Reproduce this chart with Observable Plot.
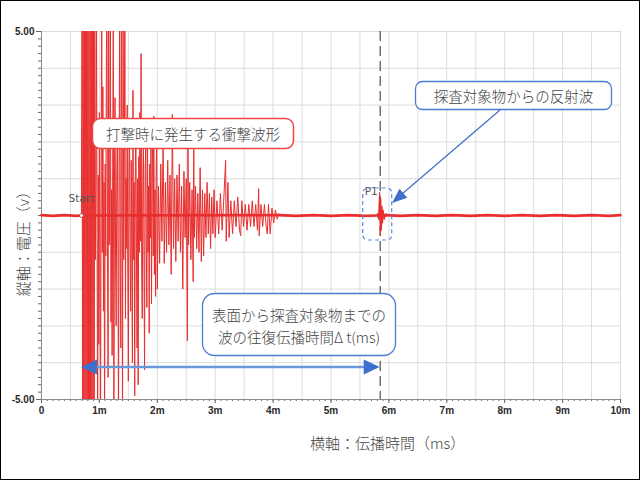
<!DOCTYPE html>
<html><head><meta charset="utf-8">
<script src="https://cdn.jsdelivr.net/npm/d3@7"></script>
<script src="https://cdn.jsdelivr.net/npm/@observablehq/plot@0.6"></script>
<style>
body{margin:0;background:#fff;}
#chart{width:640px;height:480px;}
.c g[aria-label="x-axis tick label"], .c g[aria-label="y-axis tick label"]{font-weight:bold;}
</style></head><body><div id="chart"></div>
<script>
// ---- data ----
const burstTime = [
0.69,0.70,0.71,0.72,0.73,0.74,0.75,0.76,0.77,0.78,
0.79,0.80,0.81,0.82,0.83,0.84,0.85,0.86,0.87,0.88,
0.89,0.90,0.91,0.92,0.93,0.94,0.95,0.96,0.97,0.98,
0.99,1.00,1.01,1.02,1.03,1.04,1.05,1.06,1.07,1.08,
1.09,1.10,1.11,1.12,1.13,1.14,1.15,1.16,1.17,1.18,
1.19,1.20,1.21,1.22,1.23,1.24,1.25,1.26,1.27,1.28,
1.29,1.30,1.31,1.32,1.33,1.34,1.35,1.36,1.37,1.38,
1.39,1.40,1.41,1.42,1.43,1.44,1.45,1.46,1.47,1.48,
1.49,1.50,1.51,1.52,1.53,1.54,1.55,1.56,1.57,1.58,
1.59,1.60,1.61,1.62,1.63,1.64,1.65,1.66,1.67,1.68,
1.69,1.70,1.71,1.72,1.73,1.74,1.75,1.76,1.77,1.78,
1.79,1.80,1.81,1.82,1.83,1.84,1.85,1.86,1.87,1.88,
1.89,1.90,1.91,1.92,1.93,1.94,1.95,1.96,1.97,1.98,
1.99,2.00,2.02,2.04,2.06,2.08,2.10,2.12,2.14,2.16,
2.18,2.20,2.22,2.24,2.26,2.28,2.30,2.32,2.34,2.36,
2.38,2.40,2.42,2.44,2.46,2.48,2.50,2.52,2.53,2.54,
2.56,2.58,2.60,2.62,2.63,2.64,2.66,2.68,2.70,2.72,
2.74,2.76,2.78,2.80,2.82,2.84,2.86,2.88,2.90,2.92,
2.94,2.96,2.98,3.00,3.03,3.06,3.09,3.12,3.15,3.18,
3.19,3.22,3.24,3.27,3.30,3.33,3.36,3.39,3.42,3.44,
3.46,3.49,3.52,3.55,3.58,3.61,3.64,3.67,3.70,3.73,
3.75,3.76,3.79,3.82,3.85,3.88,3.90,3.92,3.95,3.98,
4.01,4.04,4.07,4.10
];
const burstVolt = [
0,6,-6,6,-6,6,-6,6,-6,6,
-6,6,-6,6,-6,6,-6,6,-6,6,
-6,6,-6,6,-1.2,0.8,6,-0.9,-6,1.1,
-3.5,2.8,-0.7,-6,1.2,6,-1.0,3.5,-2.6,0.9,
-6,1.4,-1.1,4.2,6,-1.3,-4.4,6,-0.8,1.0,
6,-2.9,0.7,-3.8,1.3,6,-6,0.9,3.2,-1.4,
-3.0,1.1,2.4,-0.8,-6,1.2,6,-1.6,-3.6,6,
0.8,-6,6,-1.2,1.8,6,-2.8,1.0,-0.9,3.0,
-1.3,-4.5,1.2,2.2,-0.8,-2.6,1.5,-1.0,-4.0,3.4,
-1.2,0.9,-4.9,1.3,2.5,-0.9,-3.6,1.0,-4.6,1.6,
-1.0,2.8,-0.7,4.4,-1.4,-2.8,0.9,2.2,-1.1,-4.2,
1.2,1.8,-0.8,-2.5,2.6,-1.0,0.8,-3.2,1.4,-0.6,
1.9,-2.4,0.9,2.4,-1.1,2.7,-1.6,0.7,-2.2,1.2,
2.1,-2.0,0.8,-1.3,1.4,-0.7,2.1,-1.3,0.9,-1.0,
1.5,-0.8,1.1,-1.6,2.75,-0.9,1.0,-1.25,1.1,-0.7,
1.4,-1.0,0.8,-2.0,1.2,-0.6,1.0,-3.4,2.0,-0.8,
0.9,-1.2,0.7,-1.8,1.8,-0.6,0.8,-0.9,0.6,-1.0,
1.3,-1.25,0.7,-1.1,0.6,-0.6,0.9,-0.5,0.6,-0.9,
0.5,-0.5,0.7,-0.6,0.4,-0.5,0.6,-0.4,0.5,1.5,
-0.7,0.9,-0.6,0.4,-0.5,0.4,-0.3,0.5,-0.4,-0.55,
0.4,-0.3,0.3,-0.4,0.3,-0.3,0.4,-0.3,0.3,-0.4,
0.73,-0.55,0.3,-0.3,0.3,-0.3,-0.5,0.3,-0.5,0.2,
-0.2,0.15,-0.1,0.05
];
const echoTime = [5.80,5.82,5.84,5.85,5.86,5.87,5.88,5.89,5.90,5.92,5.95];
const echoVolt = [0.05,-0.1,0.62,-0.54,0.45,-0.4,0.25,-0.2,0.15,-0.1,0.05];
const baseTime = [0,0.2,0.4,0.6,0.69,4.1,4.4,4.7,5.0,5.3,5.6,5.8,5.95,6.2,6.5,6.8,7.1,7.4,7.7,8.0,8.3,8.6,8.9,9.2,9.5,9.8,10];
const baseVolt = [0.01,-0.01,0.01,-0.01,0,0.01,-0.01,0.01,-0.01,0.01,-0.01,0,0.01,-0.01,0.01,-0.01,0.01,-0.01,0.01,-0.01,0.01,-0.01,0.01,-0.01,0.01,-0.01,0.01];
const xTickValues = [0,1,2,3,4,5,6,7,8,9,10];
const xTickLabels = ["0","1m","2m","3m","4m","5m","6m","7m","8m","9m","10m"];
const yTickValues = [5,-5];
const yTickLabels = ["5.00","-5.00"];
const startTime = 0.69;
const echoArrival = 5.85;
const xTitle = "横軸：伝播時間（ms）";
const yTitle = "縦軸：電圧（v）";
const noteImpact = "打撃時に発生する衝撃波形";
const noteEcho = "探査対象物からの反射波";
const noteDelta = ["表面から探査対象物までの", "波の往復伝播時間Δ t(ms)"];

if (burstTime.length !== burstVolt.length) throw new Error("burst length mismatch " + burstTime.length + " " + burstVolt.length);

const burst = burstTime.map((t, i) => ({t, v: burstVolt[i]}));
const echo = echoTime.map((t, i) => ({t, v: echoVolt[i]}));
const base = baseTime.map((t, i) => ({t, v: baseVolt[i]}));

const RED = "#e82e2e";
const plot = Plot.plot({
  width: 640, height: 480,
  marginLeft: 41, marginRight: 20, marginTop: 31, marginBottom: 81,
  className: "c",
  x: {domain: [0, 10]},
  y: {domain: [-5, 5]},
  style: {fontFamily: "'Liberation Sans', Arial, sans-serif", fontSize: "10px", background: "#fff", color: "#333", overflow: "visible"},
  marks: [
    Plot.gridX(d3.range(0.5, 10.01, 0.5), {stroke: "#dcdcdc", strokeOpacity: 1}),
    Plot.gridY(d3.range(-4, 5.01, 1), {stroke: "#dcdcdc", strokeOpacity: 1}),
    Plot.axisX(d3.range(0, 10.01, 0.1), {tickSize: 2, tickFormat: () => "", label: null, stroke: "#666"}),
    Plot.axisX({ticks: xTickValues, tickSize: 4, tickPadding: 3, label: null, stroke: "#666",
      tickFormat: d => xTickLabels[xTickValues.indexOf(d)], fill: "#2a2a2a", fontWeight: "bold"}),
    Plot.axisY(d3.range(-5, 5.01, 0.2), {tickSize: 3, tickFormat: () => "", label: null, stroke: "#666"}),
    Plot.axisY({ticks: yTickValues, tickSize: 5, tickPadding: 2, label: null, stroke: "#666",
      tickFormat: d => yTickLabels[yTickValues.indexOf(d)], fill: "#2a2a2a", fontWeight: "bold"}),
    Plot.ruleX([0], {stroke: "#8c8c8c"}),
    Plot.ruleY([-5], {stroke: "#8c8c8c"}),
    Plot.ruleX([echoArrival], {stroke: "#5e5e52", strokeWidth: 1.3, strokeDasharray: "10,5"}),
    Plot.line(base, {x: "t", y: "v", stroke: RED, strokeWidth: 2.6}),
    Plot.line(burst, {x: "t", y: "v", stroke: RED, strokeWidth: 1, clip: true}),
    Plot.line(echo, {x: "t", y: "v", stroke: RED, strokeWidth: 1.2}),
    Plot.dot([startTime], {x: d => d, y: 0, r: 2, stroke: "#b03030", fill: "white", strokeWidth: 0.8}),
    Plot.text(["Start"], {x: startTime, y: 0, dy: -17, fontSize: 10.5, fill: "#555", fontFamily: "'DejaVu Sans', sans-serif"}),
    Plot.text(["P1"], {x: echoArrival, y: 0, dx: -9, dy: -24, fontSize: 10.5, fill: "#555", fontFamily: "'DejaVu Sans', sans-serif"})
  ]
});
document.getElementById("chart").appendChild(plot);

// ---- annotations ----
const svg = d3.select(plot);
const X = v => plot.scale("x").apply(v);
const g = svg.append("g");
const JP = "'Noto Sans CJK JP', 'Noto Sans', sans-serif";
const BLUE = "#4a7dd1";
const INK = "#444";

function box(x, y, w, h, stroke, sw, rx) {
  g.append("rect").attr("x", x).attr("y", y).attr("width", w).attr("height", h)
    .attr("rx", rx).attr("fill", "#fff").attr("stroke", stroke).attr("stroke-width", sw);
}
function label(text, cx, cy, size) {
  g.append("text").attr("x", cx).attr("y", cy).attr("text-anchor", "middle")
    .attr("dominant-baseline", "central").attr("font-family", JP).attr("font-size", size)
    .attr("font-weight", 300).attr("fill", INK).text(text);
}
function head(tx, ty, fx, fy, len, half, fill) {
  const a = Math.atan2(ty - fy, tx - fx);
  const bx = tx - len * Math.cos(a), by = ty - len * Math.sin(a);
  const px = -Math.sin(a) * half, py = Math.cos(a) * half;
  g.append("path").attr("d", `M${tx},${ty}L${bx + px},${by + py}L${bx - px},${by - py}Z`).attr("fill", fill);
}

// dashed box around reflection
const ex = X(echoArrival);
g.append("rect").attr("x", ex - 17).attr("y", 188).attr("width", 29).attr("height", 52).attr("rx", 5)
  .attr("fill", "none").attr("stroke", "#5a8ad8").attr("stroke-width", 1.2).attr("stroke-dasharray", "4,3");

// impact note
box(92.5, 118.5, 201, 30, "#f04545", 1.5, 8);
label(noteImpact, 193, 133.5, 14.5);

// echo note + arrow
box(415.5, 81.5, 196, 28, BLUE, 1.3, 7);
label(noteEcho, 513.5, 95.5, 14.5);
g.append("line").attr("x1", 500).attr("y1", 110).attr("x2", 402).attr("y2", 194)
  .attr("stroke", "#3f6fc8").attr("stroke-width", 1.2);
head(392, 203, 500, 110, 15, 6, "#3f6fc8");

// delta note
box(202.5, 293.5, 193, 62, BLUE, 1.3, 12);
label(noteDelta[0], 299, 314, 14.5);
label(noteDelta[1], 299, 336, 14.5);

// double arrow
const x0 = X(startTime), x1 = X(echoArrival), ya = 367;
g.append("line").attr("x1", x0 + 10).attr("y1", ya).attr("x2", x1 - 10).attr("y2", ya)
  .attr("stroke", "#6a98dc").attr("stroke-width", 2.5);
head(x0, ya, x1, ya, 16, 7.5, "#3d6fcf");
head(x1, ya, x0, ya, 16, 7.5, "#3d6fcf");

// axis titles
g.append("text").attr("x", 310).attr("y", 442).attr("text-anchor", "start").attr("dominant-baseline", "central")
  .attr("font-family", JP).attr("font-size", 15).attr("font-weight", 300).attr("fill", INK).text(xTitle);
g.append("text").attr("transform", "translate(22,240) rotate(-90)").attr("text-anchor", "middle")
  .attr("dominant-baseline", "central").attr("font-family", JP).attr("font-size", 15).attr("font-weight", 300)
  .attr("fill", INK).text(yTitle);

// outer frame
svg.append("rect").attr("x", 0.5).attr("y", 0.5).attr("width", 639).attr("height", 479)
  .attr("fill", "none").attr("stroke", "#000").attr("stroke-width", 1);
</script></body></html>
